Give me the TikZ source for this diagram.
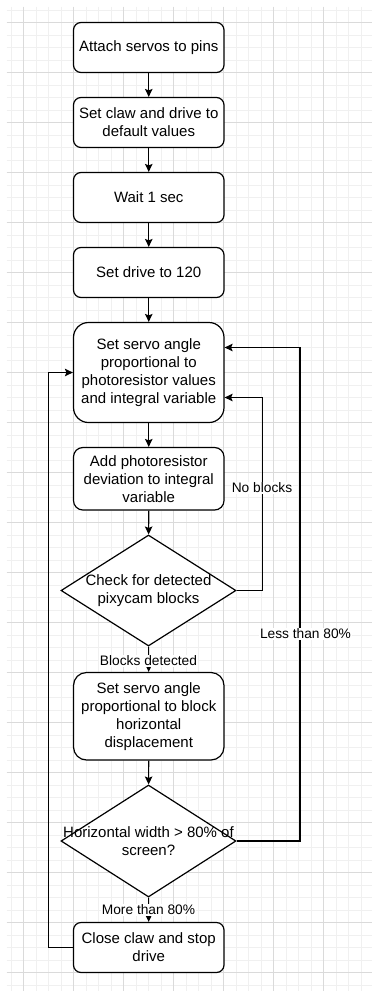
\documentclass[tikz,border=0pt]{standalone}
\usepackage{fontspec}
\setmainfont{Liberation Sans}
\usetikzlibrary{shapes.geometric,arrows.meta}
\definecolor{gmin}{HTML}{F0F0F0}
\definecolor{gmaj}{HTML}{DADADA}
\begin{document}
\begin{tikzpicture}[x=1pt,y=-1pt,
  gminor/.style={draw=gmin,line width=1pt},
  gmajor/.style={draw=gmaj,line width=1pt},
  box/.style={draw=black,line width=1.2pt,fill=white,align=center,
    minimum width=150.5pt,inner sep=0pt,font=\fontsize{15}{18}\selectfont},
  dia/.style={draw=black,line width=1.2pt,fill=white,diamond,
    minimum width=175pt,minimum height=111pt,inner sep=0pt},
  dtext/.style={align=center,inner sep=0pt,font=\fontsize{15}{18}\selectfont},
  conn/.style={draw=black,line width=1.2pt,-{Stealth[length=8pt,width=7.5pt,inset=1.5pt]}},
  lbl/.style={fill=white,inner sep=1pt,font=\fontsize{13.75}{16}\selectfont}
]
\useasboundingbox (0,0) rectangle (372,991);
\fill[white] (0,0) rectangle (372,991);
% grid
\foreach \k in {0,...,29} \draw[gminor] ({11+12.5*\k},6.7) -- ({11+12.5*\k},991);
\foreach \k in {0,...,78} \draw[gminor] (6.7,{10+12.5*\k}) -- (372,{10+12.5*\k});
\foreach \k in {0,...,6} \draw[gmajor] ({23.5+50*\k},6.7) -- ({23.5+50*\k},991);
\foreach \k in {0,...,19} \draw[gmajor] (6.7,{22.5+50*\k}) -- (372,{22.5+50*\k});

% nodes
\node[box,minimum height=50pt,rounded corners=7.5pt] (b1) at (148.75,47.5) {Attach servos to pins};
\node[box,minimum height=50pt,rounded corners=7.5pt] (b2) at (148.75,122.5) {Set claw and drive to\\default values};
\node[box,minimum height=50pt,rounded corners=7.5pt] (b3) at (148.75,197.5) {Wait 1 sec};
\node[box,minimum height=50pt,rounded corners=7.5pt] (b4) at (148.75,272.5) {Set drive to 120};
\node[box,minimum height=100pt,rounded corners=15pt] (b5) at (148.75,372.5) {Set servo angle\\proportional to\\photoresistor values\\and integral variable};
\node[box,minimum height=62.5pt,rounded corners=9.4pt] (b6) at (148.75,478.75) {Add photoresistor\\deviation to integral\\variable};
\node[dia] (d1) at (148.5,590.5) {};
\node[dtext] (d1t) at (d1.center) {Check for detected\\pixycam blocks};
\node[box,minimum height=87.5pt,rounded corners=13pt] (b7) at (148.75,716.25) {Set servo angle\\proportional to block\\horizontal\\displacement};
\node[dia,minimum height=112pt] (d2) at (148.5,841) {};
\node[dtext] (d2t) at (d2.center) {Horizontal width > 80\% of\\screen?};
\node[box,minimum height=50pt,rounded corners=7.5pt] (b8) at (148.75,947.5) {Close claw and stop\\drive};

% connectors
\draw[conn] (b1) -- (b2);
\draw[conn] (b2) -- (b3);
\draw[conn] (b3) -- (b4);
\draw[conn] (b4) -- (b5);
\draw[conn] (b5) -- (b6);
\draw[conn] (b6) -- (d1);
\draw[conn] (d1) -- (b7);
\node[lbl] (l1) at (148.5,661) {Blocks detected};
\draw[conn] (b7) -- (d2);
\draw[conn] (d2) -- (b8);
\node[lbl] (l2) at (148.5,910) {More than 80\%};

\coordinate (nb) at (262.3,397.5);
\draw[conn] (d1.east) -| (nb) -- (b5.east |- nb);
\node[lbl] (l3) at (262,488) {No blocks};

\coordinate (lt) at (300,347.5);
\draw[conn] (d2.east) -| (lt) -- (b5.east |- lt);
\node[lbl] (l4) at (305.5,634) {Less than 80\%};

\coordinate (lp) at (48.3,372.5);
\draw[conn] (b8.west) -| (lp) -- (b5.west);
\end{tikzpicture}
\end{document}
